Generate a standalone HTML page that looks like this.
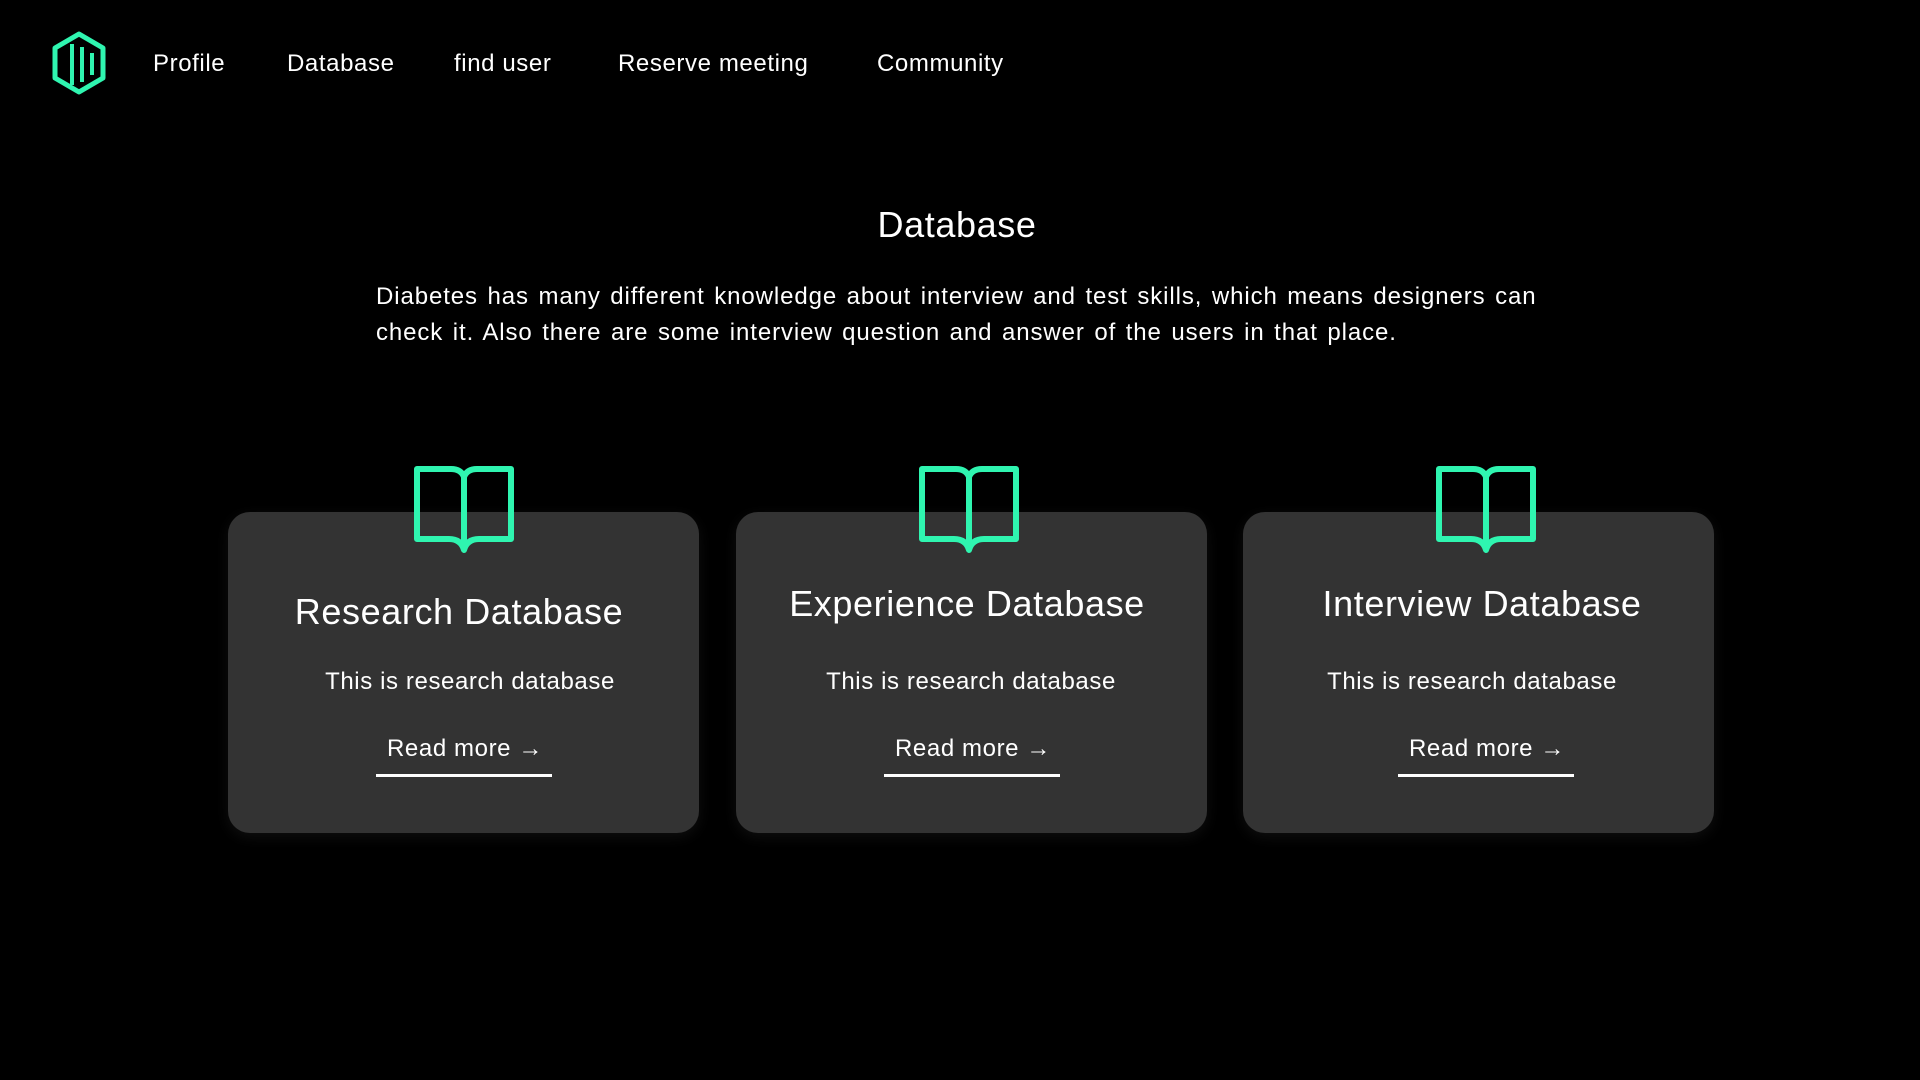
<!DOCTYPE html>
<html><head><meta charset="utf-8"><style>
html,body{margin:0;padding:0;background:#000;width:1920px;height:1080px;overflow:hidden;font-family:"Liberation Sans",sans-serif;color:#fff;letter-spacing:0.6px}
.a{position:absolute;white-space:nowrap}
.nav{font-size:24px;top:50px}
.card{position:absolute;top:512px;width:471px;height:321px;background:#333;border-radius:22px;box-shadow:0 4px 14px rgba(255,255,255,0.06)}
.ct{font-size:36px;transform:translateX(-50%)}
.cd{font-size:24px;transform:translateX(-50%)}
.rm{font-size:24px;transform:translateX(-50%);top:735px}
.ul{position:absolute;top:774px;width:176px;height:3px;background:#fff}
svg.book{position:absolute;top:465px}
</style></head><body>
<svg class="a" style="left:50px;top:30px" width="58" height="66" viewBox="0 0 58 66">
<polygon points="29,4 53,18 53,48 29,62 5,48 5,18" fill="none" stroke="#2ff5b0" stroke-width="5" stroke-linejoin="round"/>
<line x1="22" y1="14" x2="22" y2="55" stroke="#2ff5b0" stroke-width="4"/>
<line x1="32" y1="17" x2="32" y2="52" stroke="#2ff5b0" stroke-width="4"/>
<line x1="42" y1="23" x2="42" y2="45" stroke="#2ff5b0" stroke-width="4"/>
</svg>
<div class="a nav" style="left:153px">Profile</div>
<div class="a nav" style="left:287px">Database</div>
<div class="a nav" style="left:454px">find user</div>
<div class="a nav" style="left:618px">Reserve meeting</div>
<div class="a nav" style="left:877px">Community</div>
<div class="a" style="left:957px;top:204px;font-size:36px;transform:translateX(-50%)">Database</div>
<div class="a" style="left:376px;top:279px;font-size:24px;line-height:36px;white-space:normal;width:1175px;letter-spacing:0.9px;word-spacing:2px">Diabetes has many different knowledge about interview and test skills, which means designers can check it. Also there are some interview question and answer of the users in that place.</div>

<div class="card" style="left:228px"></div>
<div class="card" style="left:736px"></div>
<div class="card" style="left:1243px"></div>

<svg class="book" style="left:413px" width="104" height="90" viewBox="0 0 104 90"><path d="M4,4 H38 Q48,4 51,12 Q54,4 64,4 H98 V74 H66 Q54,74 51,85 Q48,74 36,74 H4 Z M51,12 V82" fill="none" stroke="#2ff5b0" stroke-width="6" stroke-linejoin="round" stroke-linecap="round"/></svg>
<svg class="book" style="left:918px" width="104" height="90" viewBox="0 0 104 90"><path d="M4,4 H38 Q48,4 51,12 Q54,4 64,4 H98 V74 H66 Q54,74 51,85 Q48,74 36,74 H4 Z M51,12 V82" fill="none" stroke="#2ff5b0" stroke-width="6" stroke-linejoin="round" stroke-linecap="round"/></svg>
<svg class="book" style="left:1435px" width="104" height="90" viewBox="0 0 104 90"><path d="M4,4 H38 Q48,4 51,12 Q54,4 64,4 H98 V74 H66 Q54,74 51,85 Q48,74 36,74 H4 Z M51,12 V82" fill="none" stroke="#2ff5b0" stroke-width="6" stroke-linejoin="round" stroke-linecap="round"/></svg>

<div class="a ct" style="left:459px;top:591px">Research Database</div>
<div class="a ct" style="left:967px;top:583px">Experience Database</div>
<div class="a ct" style="left:1482px;top:583px">Interview Database</div>

<div class="a cd" style="left:470px;top:668px">This is research database</div>
<div class="a cd" style="left:971px;top:668px">This is research database</div>
<div class="a cd" style="left:1472px;top:668px">This is research database</div>

<div class="a rm" style="left:465px">Read more →</div>
<div class="a rm" style="left:973px">Read more →</div>
<div class="a rm" style="left:1487px">Read more →</div>
<div class="ul" style="left:376px"></div>
<div class="ul" style="left:884px"></div>
<div class="ul" style="left:1398px"></div>
</body></html>
